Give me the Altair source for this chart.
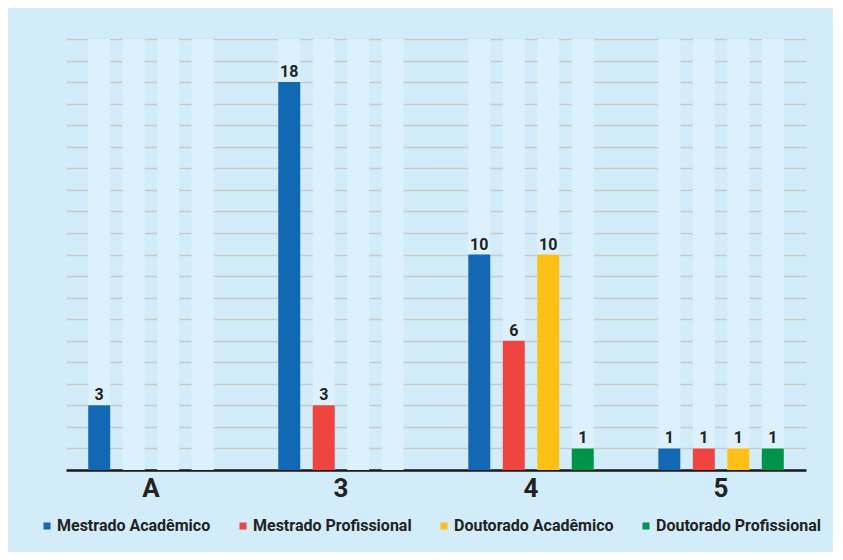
import altair as alt
import pandas as pd

groups = ["A", "3", "4", "5"]
series = ["Mestrado Acadêmico", "Mestrado Profissional", "Doutorado Acadêmico", "Doutorado Profissional"]
colors = ["#1268b3", "#ef4540", "#fdc116", "#009448"]
mestrado_academico = [3, 18, 10, 1]
mestrado_profissional = [None, 3, 6, 1]
doutorado_academico = [None, None, 10, 1]
doutorado_profissional = [None, None, 1, 1]
track_max = 20
grid_values = list(range(0, track_max + 1))

rows = []
for s, vals in zip(series, [mestrado_academico, mestrado_profissional, doutorado_academico, doutorado_profissional]):
    for g, v in zip(groups, vals):
        rows.append({"grupo": g, "serie": s, "valor": v, "trilha": track_max})
df = pd.DataFrame(rows)

FONT = "Roboto"

x_enc = alt.X("grupo:N", sort=groups,
              scale=alt.Scale(paddingInner=0.274, paddingOuter=0.084),
              axis=alt.Axis(title=None, labelAngle=0, labelFontSize=26, labelFontWeight="bold",
                            labelColor="#222222", labelFont=FONT, labelPadding=5,
                            ticks=False, domainColor="#1a1a1a", domainWidth=2.5, grid=False))
xo_enc = alt.XOffset("serie:N", sort=series,
                     scale=alt.Scale(paddingInner=0.362, paddingOuter=0.181))

y_axis = alt.Axis(title=None, values=grid_values, labels=False, ticks=False, domain=False,
                  grid=True, gridColor="#c9c9c9", gridWidth=1.5)
y_scale = alt.Scale(domain=[0, track_max], nice=False)

base = alt.Chart(df)

tracks = base.mark_bar(color="#dcf1fc").encode(
    x=x_enc,
    xOffset=xo_enc,
    y=alt.Y("trilha:Q", scale=y_scale, axis=y_axis),
)

bars = base.transform_filter("datum.valor != null").mark_bar().encode(
    x=x_enc,
    xOffset=xo_enc,
    y=alt.Y("valor:Q", scale=y_scale, axis=y_axis),
    color=alt.Color("serie:N", sort=series,
                    scale=alt.Scale(domain=series, range=colors),
                    legend=alt.Legend(title=None, orient="none", direction="horizontal",
                                      legendX=-27, legendY=479, symbolType="square",
                                      symbolSize=49, symbolStrokeWidth=0, labelFontSize=16,
                                      labelFont=FONT, labelFontWeight="bold",
                                      labelColor="#222222", labelOffset=2, columnPadding=24,
                                      labelLimit=400, padding=0)),
)

labels = base.transform_filter("datum.valor != null").mark_text(
    baseline="alphabetic", dy=-5, fontSize=16, fontWeight="bold", font=FONT, color="#222222"
).encode(
    x=x_enc,
    xOffset=xo_enc,
    y=alt.Y("valor:Q", scale=y_scale, axis=y_axis),
    text=alt.Text("valor:Q"),
)

chart = alt.layer(tracks, bars, labels).properties(
    width=740, height=431,
    background="#d2ecf9",
    padding={"left": 58, "top": 31, "right": 27, "bottom": 82},
    autosize=alt.AutoSizeParams(type="none"),
).configure_view(stroke=None)

chart.save("out.html", embed_options={"renderer": "svg", "actions": False})
